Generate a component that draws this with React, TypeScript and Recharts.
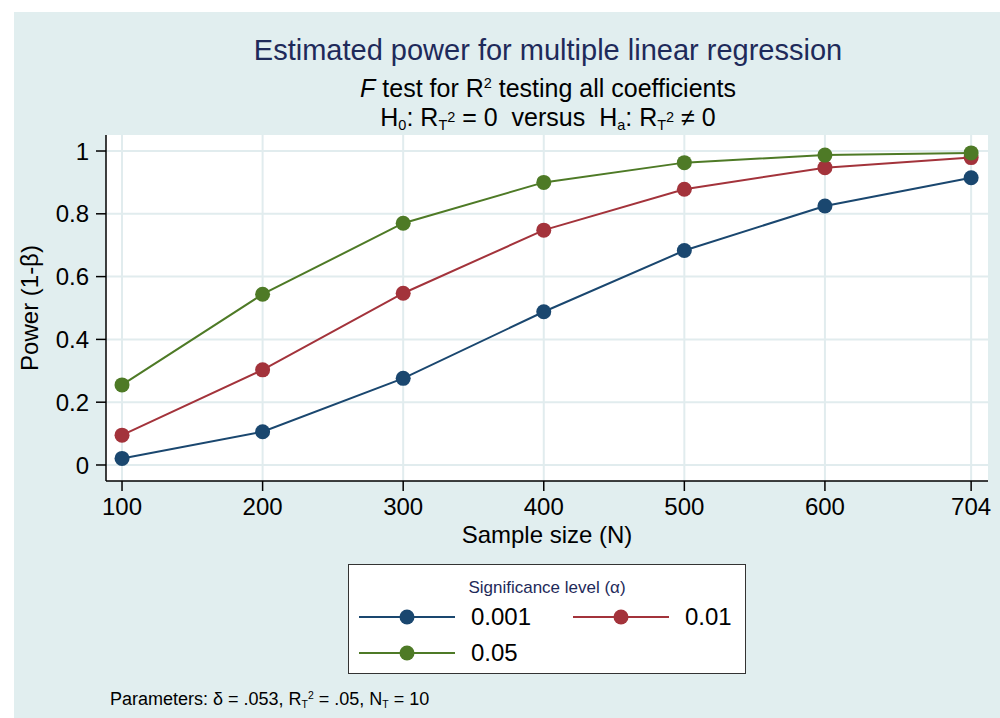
import React from 'react';
import { LineChart, Line, XAxis, YAxis, CartesianGrid, Label, Legend } from 'recharts';

// sample sizes on the x axis
const sampleSizes = [100, 200, 300, 400, 500, 600, 704];
const yTicks = [0, 0.2, 0.4, 0.6, 0.8, 1];

// estimated power per significance level
const power001 = [0.021, 0.106, 0.276, 0.488, 0.683, 0.825, 0.915];
const power01 = [0.095, 0.303, 0.547, 0.748, 0.878, 0.947, 0.979];
const power05 = [0.255, 0.544, 0.770, 0.900, 0.963, 0.987, 0.994];

const seriesNames = ['0.001', '0.01', '0.05'];
const seriesKeys = ['a001', 'a01', 'a05'];
const seriesColors = ['#1A476F', '#A3333B', '#4E7A26'];

const data = sampleSizes.map((n, i) => ({
  n,
  a001: power001[i],
  a01: power01[i],
  a05: power05[i],
}));

const FONT = '"Liberation Sans", Arial, Helvetica, sans-serif';
const BG = '#E1EEEF';
const GRID = '#E1ECEE';

// small sub/superscripts that don't push the line box around
const Sub = ({ children }: { children: React.ReactNode }) => (
  <span style={{ fontSize: '0.58em', position: 'relative', top: '0.3em' }}>{children}</span>
);
const Sup = ({ children, lift = 0.6 }: { children: React.ReactNode; lift?: number }) => (
  <span style={{ fontSize: '0.58em', position: 'relative', top: `-${lift}em` }}>{children}</span>
);

const LegendBox = () => {
  const swatch = (color: string) => (
    <svg width={96} height={18} style={{ display: 'block' }}>
      <line x1={0} y1={9} x2={96} y2={9} stroke={color} strokeWidth={2} />
      <circle cx={48} cy={9} r={7.5} fill={color} />
    </svg>
  );
  const item = (i: number, left: number, top: number) => (
    <div key={i} style={{ position: 'absolute', left, top, display: 'flex', alignItems: 'center' }}>
      {swatch(seriesColors[i])}
      <span style={{ marginLeft: 16, fontSize: 24, color: '#000' }}>{seriesNames[i]}</span>
    </div>
  );
  return (
    <div
      style={{
        position: 'absolute',
        left: 348,
        top: 564,
        width: 396,
        height: 108,
        background: '#fff',
        border: '1.5px solid #333',
        fontFamily: FONT,
      }}
    >
      <div style={{ position: 'absolute', top: 13, width: '100%', textAlign: 'center', fontSize: 17, color: '#1E2A5A' }}>
        Significance level (α)
      </div>
      {item(0, 10, 38)}
      {item(1, 224, 38)}
      {item(2, 10, 74)}
    </div>
  );
};

export default function App() {
  return (
    <div style={{ position: 'absolute', left: 0, top: 0, width: 1000, height: 718, background: '#fff', fontFamily: FONT }}>
      <div style={{ position: 'absolute', left: 14, top: 12, width: 986, height: 706, background: BG }} />

      <div style={{ position: 'absolute', left: 0, width: 1096, top: 33, textAlign: 'center', fontSize: 29, color: '#1E2A5A', lineHeight: '34px', whiteSpace: 'nowrap' }}>
        Estimated power for multiple linear regression
      </div>
      <div style={{ position: 'absolute', left: 0, width: 1096, top: 75, textAlign: 'center', fontSize: 25, color: '#000', lineHeight: '26px', whiteSpace: 'nowrap' }}>
        <i>F</i> test for R<Sup>2</Sup> testing all coefficients
      </div>
      <div style={{ position: 'absolute', left: 0, width: 1096, top: 104, textAlign: 'center', fontSize: 25, color: '#000', lineHeight: '26px', whiteSpace: 'nowrap' }}>
        H<Sub>0</Sub>: R<Sub>T</Sub><Sup lift={0.3}>2</Sup> = 0&nbsp; versus&nbsp; H<Sub>a</Sub>: R<Sub>T</Sub><Sup lift={0.3}>2</Sup> ≠ 0
      </div>

      <div style={{ position: 'absolute', left: 0, top: 0 }}>
        <LineChart
          width={1000}
          height={718}
          data={data}
          margin={{ top: 135, right: 12, bottom: 197, left: 46 }}
        >
          <CartesianGrid
            stroke={GRID}
            strokeWidth={2}
            fill="#fff"
            horizontalValues={yTicks}
            verticalValues={sampleSizes}
          />
          <XAxis
            dataKey="n"
            type="number"
            domain={[88.6, 716]}
            ticks={sampleSizes}
            interval={0}
            stroke="#000"
            strokeWidth={1.5}
            tickSize={10}
            tickMargin={7}
            tick={{ fill: '#000', fontSize: 24, fontFamily: FONT }}
            height={40}
          >
            <Label value="Sample size (N)" position="insideBottom" offset={-22} style={{ fill: '#000', fontSize: 24, fontFamily: FONT }} />
          </XAxis>
          <YAxis
            type="number"
            domain={[-0.051, 1.051]}
            ticks={yTicks}
            interval={0}
            stroke="#000"
            strokeWidth={1.5}
            tickSize={10}
            tickMargin={7}
            tickFormatter={(v: number) => (v === 0 || v === 1 ? String(v) : v.toFixed(1))}
            tick={{ fill: '#000', fontSize: 24, fontFamily: FONT }}
            width={60}
          >
            <Label value="Power (1-β)" angle={-90} position="insideLeft" offset={-17} style={{ fill: '#000', fontSize: 24, fontFamily: FONT, textAnchor: 'middle' }} />
          </YAxis>
          <Legend content={() => null} />
          {seriesKeys.map((k, i) => (
            <Line
              key={k}
              type="linear"
              dataKey={k}
              name={seriesNames[i]}
              stroke={seriesColors[i]}
              strokeWidth={2}
              dot={{ r: 7.5, fill: seriesColors[i], stroke: 'none' }}
              activeDot={false}
              isAnimationActive={false}
            />
          ))}
        </LineChart>
      </div>

      <LegendBox />

      <div style={{ position: 'absolute', left: 110, top: 689, fontSize: 18, color: '#000', whiteSpace: 'nowrap' }}>
        Parameters: δ = .053, R<Sub>T</Sub><Sup>2</Sup> = .05, N<Sub>T</Sub> = 10
      </div>
    </div>
  );
}
